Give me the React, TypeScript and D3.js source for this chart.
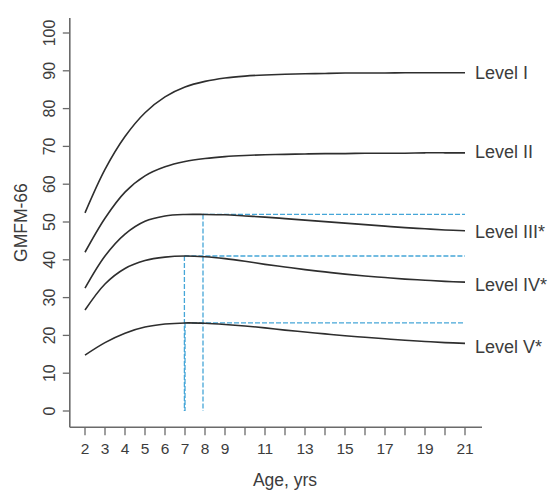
import React from "react";
import * as d3 from "d3";

const ages = [2, 3, 4, 5, 6, 7, 8, 9, 10, 11, 12, 13, 14, 15, 16, 17, 18, 19, 20, 21];
const levelI = [52.4, 63.9, 72.6, 78.9, 83.1, 85.7, 87.2, 88.1, 88.6, 88.9, 89.1, 89.2, 89.3, 89.4, 89.4, 89.4, 89.5, 89.5, 89.5, 89.5];
const levelII = [42.0, 51.0, 57.9, 62.2, 64.6, 66.0, 66.8, 67.3, 67.6, 67.8, 67.9, 68.0, 68.1, 68.1, 68.2, 68.2, 68.2, 68.3, 68.3, 68.3];
const levelIII = [32.5, 41.0, 46.8, 50.2, 51.6, 52.0, 52.0, 51.9, 51.6, 51.3, 50.9, 50.5, 50.1, 49.7, 49.3, 48.9, 48.5, 48.2, 47.9, 47.7];
const levelIV = [26.7, 33.6, 37.7, 39.8, 40.7, 41.0, 40.8, 40.3, 39.6, 38.8, 38.1, 37.4, 36.8, 36.2, 35.7, 35.3, 34.9, 34.6, 34.3, 34.1];
const levelV = [14.8, 18.1, 20.6, 22.2, 23.0, 23.3, 23.2, 22.9, 22.5, 22.0, 21.4, 20.9, 20.4, 19.9, 19.5, 19.1, 18.7, 18.4, 18.1, 17.9];

const levelNames = ["Level I", "Level II", "Level III*", "Level IV*", "Level V*"];
const labelValues = [89.4, 68.4, 47.4, 33.3, 17.0];

// peaks for levels III, IV, V
const peakAges = [7.9, 6.97, 7.0];
const peakValues = [52.0, 41.0, 23.3];

const yTicks = [0, 10, 20, 30, 40, 50, 60, 70, 80, 90, 100];
const xTicks = [2, 3, 4, 5, 6, 7, 8, 9, 10, 11, 12, 13, 14, 15, 16, 17, 18, 19, 20, 21];
const xTickLabels = [2, 3, 4, 5, 6, 7, 8, 9, 11, 13, 15, 17, 19, 21];

const W = 554;
const H = 493;
const FONT = "'Liberation Sans', Arial, Helvetica, sans-serif";
const TEXT = "#3c3c3c";
const AXIS = "#6a6a6a";
const BLUE = "#46a6d8";

export default function App() {
  const x = d3.scaleLinear().domain([2, 21]).range([85, 465]);
  const y = d3.scaleLinear().domain([0, 100]).range([411, 33]);
  const xLim = [1.24, 21.85];
  const yLim = [-4.3, 104];

  const series = [levelI, levelII, levelIII, levelIV, levelV];
  const line = d3
    .line<number>()
    .x((_, i) => x(ages[i]))
    .y((d) => y(d))
    .curve(d3.curveCatmullRom.alpha(0.5));

  return (
    <svg
      width={W}
      height={H}
      style={{ position: "absolute", left: 0, top: 0, background: "#fff" }}
      fontFamily={FONT}
    >
      {/* axes (L box) */}
      <line x1={x(xLim[0])} x2={x(xLim[0])} y1={y(yLim[1])} y2={y(yLim[0])} stroke={AXIS} strokeWidth={1.6} />
      <line x1={x(xLim[0])} x2={x(xLim[1])} y1={y(yLim[0])} y2={y(yLim[0])} stroke={AXIS} strokeWidth={1.6} />

      {/* y ticks */}
      {yTicks.map((t) => (
        <g key={"y" + t}>
          <line x1={x(xLim[0]) - 7} x2={x(xLim[0])} y1={y(t)} y2={y(t)} stroke={AXIS} strokeWidth={1.3} />
          <text
            transform={`translate(${x(xLim[0]) - 20},${y(t)}) rotate(-90)`}
            textAnchor="middle"
            dominantBaseline="central"
            fontSize={16}
            fill={TEXT}
          >
            {t}
          </text>
        </g>
      ))}

      {/* x ticks */}
      {xTicks.map((t) => (
        <line key={"xt" + t} x1={x(t)} x2={x(t)} y1={y(yLim[0])} y2={y(yLim[0]) + 8} stroke={AXIS} strokeWidth={1.3} />
      ))}
      {xTickLabels.map((t) => (
        <text key={"xl" + t} x={x(t)} y={y(yLim[0]) + 27} textAnchor="middle" fontSize={15.5} fill={TEXT}>
          {t}
        </text>
      ))}

      {/* axis titles */}
      <text x={285} y={486} textAnchor="middle" fontSize={17.5} fill={TEXT}>
        Age, yrs
      </text>
      <text
        transform={`translate(21,${(y(yLim[0]) + y(yLim[1])) / 2}) rotate(-90)`}
        textAnchor="middle"
        dominantBaseline="central"
        fontSize={17.5}
        fill={TEXT}
      >
        GMFM-66
      </text>

      {/* dashed reference lines */}
      {peakAges.map((a, i) => (
        <g key={"pk" + i}>
          <line
            x1={x(a)}
            x2={x(21)}
            y1={y(peakValues[i])}
            y2={y(peakValues[i])}
            stroke={BLUE}
            strokeWidth={1.3}
            strokeDasharray="5,2"
          />
          <line
            x1={x(a)}
            x2={x(a)}
            y1={y(peakValues[i])}
            y2={y(0)}
            stroke={BLUE}
            strokeWidth={1.3}
            strokeDasharray="5,2"
          />
        </g>
      ))}

      {/* curves */}
      {series.map((s, i) => (
        <path key={"c" + i} d={line(s) || ""} fill="none" stroke="#2e2e2e" strokeWidth={1.6} />
      ))}

      {/* level labels */}
      {levelNames.map((n, i) => (
        <text
          key={"lab" + i}
          x={x(21) + 10}
          y={y(labelValues[i])}
          dominantBaseline="central"
          fontSize={18}
          fill={TEXT}
        >
          {n}
        </text>
      ))}
    </svg>
  );
}
